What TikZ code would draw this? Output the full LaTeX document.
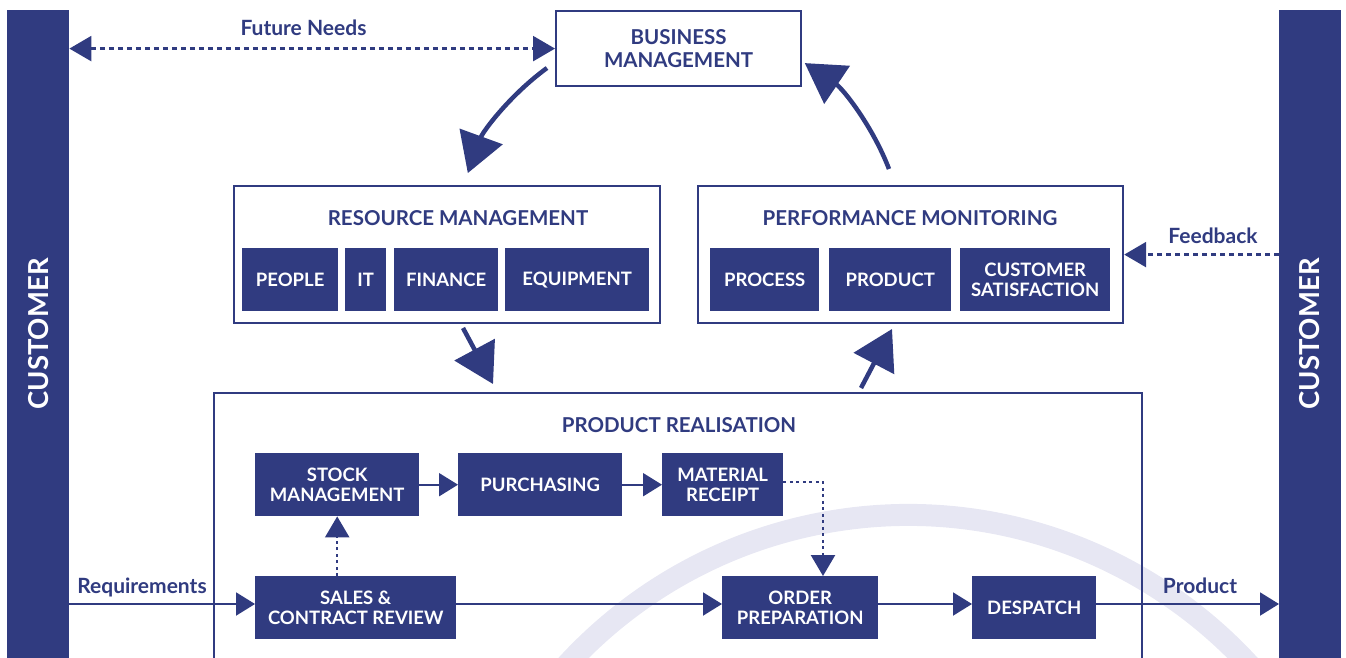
\documentclass[tikz,border=0pt]{standalone}
\usepackage{fontspec}
\setmainfont{Lato}
\usetikzlibrary{arrows.meta}
\definecolor{navy}{HTML}{303B80}
\definecolor{haze}{HTML}{E7E7F3}

\begin{document}
\begin{tikzpicture}[x=1pt,y=1pt,
  panel/.style={draw=navy, line width=2.2pt, inner sep=0pt, anchor=north west},
  sub/.style={fill=navy, text=white, font=\fontsize{18.5}{20}\selectfont\bfseries,
    align=center, inner sep=0pt, anchor=north west},
  heading/.style={text=navy, font=\fontsize{20.5}{23}\selectfont\bfseries,
    align=center, inner sep=0pt, anchor=base},
  tag/.style={text=navy, font=\fontsize{21}{23}\selectfont\bfseries,
    inner sep=0pt, anchor=base},
  custbar/.style={fill=navy, inner sep=0pt, anchor=north west,
    minimum width=62, minimum height=660},
  custtext/.style={text=white, rotate=90, inner sep=0pt,
    font=\fontsize{27.5}{30}\selectfont\bfseries},
  flow/.style={draw=navy, line width=2pt, -{Triangle[length=19pt,width=23pt]}},
  dots/.style={draw=navy, line width=2.5pt, dash pattern=on 3pt off 3.5pt,
    -{Triangle[length=21pt,width=24pt]}},
  dashline/.style={draw=navy, line width=2.5pt, dash pattern=on 5pt off 4pt},
  bigarrow/.style={draw=navy, line width=4.5pt, -{Triangle[length=39pt,width=45pt]}},
]
\useasboundingbox (0,0) rectangle (1346,-658);
\clip (0,0) rectangle (1346,-658);

% faint ring behind the product realisation block
\draw[haze, line width=22pt] (908,-978) ++(12:463) arc[start angle=12, end angle=168, radius=463];

% customer columns
\node[custbar] (lcust) at (7,-10) {};
\node[custbar] (rcust) at (1279,-10) {};
\node[custtext] (lcustname) at (38.5,-334) {CUSTOMER};
\node[custtext] (rcustname) at (1310,-334) {CUSTOMER};

% business management
\node[panel, minimum width=245, minimum height=75,
  font=\fontsize{20.5}{23}\selectfont\bfseries, text=navy, align=center]
  (bm) at (555,-10) {BUSINESS\\MANAGEMENT};

% resource management
\node[panel, minimum width=426, minimum height=137] (rm) at (233,-185) {};
\node[heading] (rmtitle) at (458,-225) {RESOURCE MANAGEMENT};
\node[sub, minimum width=96, minimum height=63] (people) at (242,-248) {PEOPLE};
\node[sub, minimum width=41, minimum height=63] (it) at (345,-248) {IT};
\node[sub, minimum width=104, minimum height=63] (finance) at (394,-248) {FINANCE};
\node[sub, minimum width=144, minimum height=63] (equip) at (505,-248) {EQUIPMENT};

% performance monitoring
\node[panel, minimum width=425, minimum height=137] (pm) at (697,-185) {};
\node[heading] (pmtitle) at (910,-225) {PERFORMANCE MONITORING};
\node[sub, minimum width=109, minimum height=63] (process) at (710,-248) {PROCESS};
\node[sub, minimum width=122, minimum height=63] (product) at (829,-248) {PRODUCT};
\node[sub, minimum width=150, minimum height=63] (custsat) at (960,-248) {CUSTOMER\\SATISFACTION};

% product realisation
\node[panel, minimum width=928, minimum height=330] (pr) at (213,-392) {};
\node[heading] (prtitle) at (679,-432) {PRODUCT REALISATION};
\node[sub, minimum width=164, minimum height=63] (stock) at (255,-453) {STOCK\\MANAGEMENT};
\node[sub, minimum width=164, minimum height=63] (purch) at (458,-453) {PURCHASING};
\node[sub, minimum width=121, minimum height=63] (matrec) at (662,-453) {MATERIAL\\RECEIPT};
\node[sub, minimum width=201, minimum height=63] (sales) at (255,-576) {SALES \&\\CONTRACT REVIEW};
\node[sub, minimum width=156, minimum height=63] (order) at (722,-576) {ORDER\\PREPARATION};
\node[sub, minimum width=124, minimum height=63] (despatch) at (972,-576) {DESPATCH};

% main flow
\coordinate (row) at (0,-604);
\draw[flow] (lcust.east |- row) -- (sales.west |- row);
\draw[flow] (sales.east |- row) -- (order.west |- row);
\draw[flow] (order.east |- row) -- (despatch.west |- row);
\draw[flow] (despatch.east |- row) -- (rcust.west |- row);
\node[tag] (req) at (142,-593) {Requirements};
\node[tag] (prod) at (1200,-593) {Product};

% supply chain
\draw[flow] (stock.east) -- (purch.west);
\draw[flow] (purch.east) -- (matrec.west);
\draw[dots] (stock.south |- sales.north) -- (stock.south);
\coordinate (mrturn) at (823,-482);
\draw[dots] (matrec.east |- mrturn) -- (mrturn) -- (mrturn |- order.north);

% customer links
\draw[dashline, {Triangle[length=22pt,width=25pt]}-{Triangle[length=22pt,width=25pt]}]
  (lcust.east |- bm.west) -- (bm.west);
\node[tag] (future) at (303.5,-36) {Future Needs};
\draw[dashline, -{Triangle[length=22pt,width=25pt]}] (rcust.west |- pm.east) -- (pm.east);
\node[tag] (feedback) at (1213,-243) {Feedback};

% management cycle
\coordinate (bmout) at (547,-68);
\coordinate (pmout) at (889,-169);
\draw[bigarrow] (bmout) arc[start angle=126, end angle=160, radius=225];
\draw[bigarrow] (pmout) arc[start angle=21, end angle=56, radius=225];
\coordinate (rmout) at (463,-328);
\coordinate (prin) at (493,-384);
\draw[bigarrow] (rmout) -- (prin);
\coordinate (prout) at (861,-388);
\coordinate (pmin) at (892,-329);
\draw[bigarrow] (prout) -- (pmin);
\end{tikzpicture}
\end{document}
